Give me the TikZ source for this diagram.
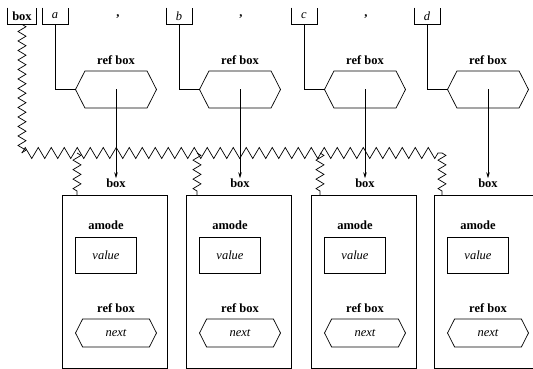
\documentclass[tikz,border=0pt]{standalone}
\usepackage{fontspec}
\setmainfont{Liberation Serif}
\usetikzlibrary{shapes.symbols,arrows.meta,positioning,decorations.pathmorphing}

\tikzset{
    lbl/.style={font=\fontsize{12.5}{14}\selectfont\bfseries, inner sep=0pt},
    var/.style={font=\fontsize{12.5}{14}\selectfont\itshape, inner sep=0pt},
    tbox/.style={minimum height=16, minimum width=25, inner sep=0pt},
    hexbox/.style={signal, signal to=west and east, signal pointer angle=126,
        draw, inner sep=0pt},
    valbox/.style={draw, minimum width=61, minimum height=36, inner sep=0pt},
    cell/.style={draw, minimum width=105, minimum height=172.5, inner sep=0pt},
    zig/.style={decorate, decoration={zigzag, segment length=13, amplitude=5.5}},
    zigv/.style={decorate, decoration={zigzag, segment length=9.5, amplitude=4}},
}

\begin{document}
\begin{tikzpicture}[x=1pt, y=-1pt, line width=0.7pt]
    \clip (0,0) rectangle (533,369);

    % Top: box and the variables a, b, c, d
    \node[tbox, minimum width=28, lbl] (tb0) at (22,16) {box};
    \draw (tb0.north west) -- (tb0.south west) -- (tb0.south east) -- (tb0.north east);
    \foreach \x in {118,241,366} {
        \node[lbl, anchor=base] at (\x,16.5) {,};
    }

    % Zigzag links
    \coordinate (zl) at (22,153);
    \coordinate (zr) at (442,153);
    \draw[zigv] (tb0.south) -- (zl);
    \draw[zig] (zl) -- (zr);

    \foreach \i/\x/\v/\z in {1/116/a/77, 2/240/b/197, 3/365/c/320, 4/488/d/442} {
        % variable and its ref box
        \node[tbox, var] (tb\i) at (\x-61,16) {\v};
        \draw (tb\i.north west) -- (tb\i.south west) -- (tb\i.south east) -- (tb\i.north east);
        \node[hexbox, minimum width=81, minimum height=37] (h\i) at (\x,89.5) {};
        \node[lbl, above=6pt of h\i] {ref box};
        \draw (tb\i.south) |- (h\i.west);

        % record box
        \node[cell] (c\i) at (\x-1,281.75) {};
        \node[lbl] (bl\i) at (\x,183) {box};
        \draw[-{Stealth[length=6pt,width=3.5pt]}] (h\i.center) -- (bl\i.north);
        \coordinate (d\i) at (\z,153);
        \draw[zigv] (d\i) -- (d\i |- c\i.north);

        \node[valbox, var] (v\i) at (\x-10,255) {value};
        \node[lbl, above=7pt of v\i] {amode};
        \node[hexbox, var, minimum width=81, minimum height=28] (n\i) at (\x,333) {next};
        \node[lbl, above=6pt of n\i] {ref box};
    }
\end{tikzpicture}
\end{document}
